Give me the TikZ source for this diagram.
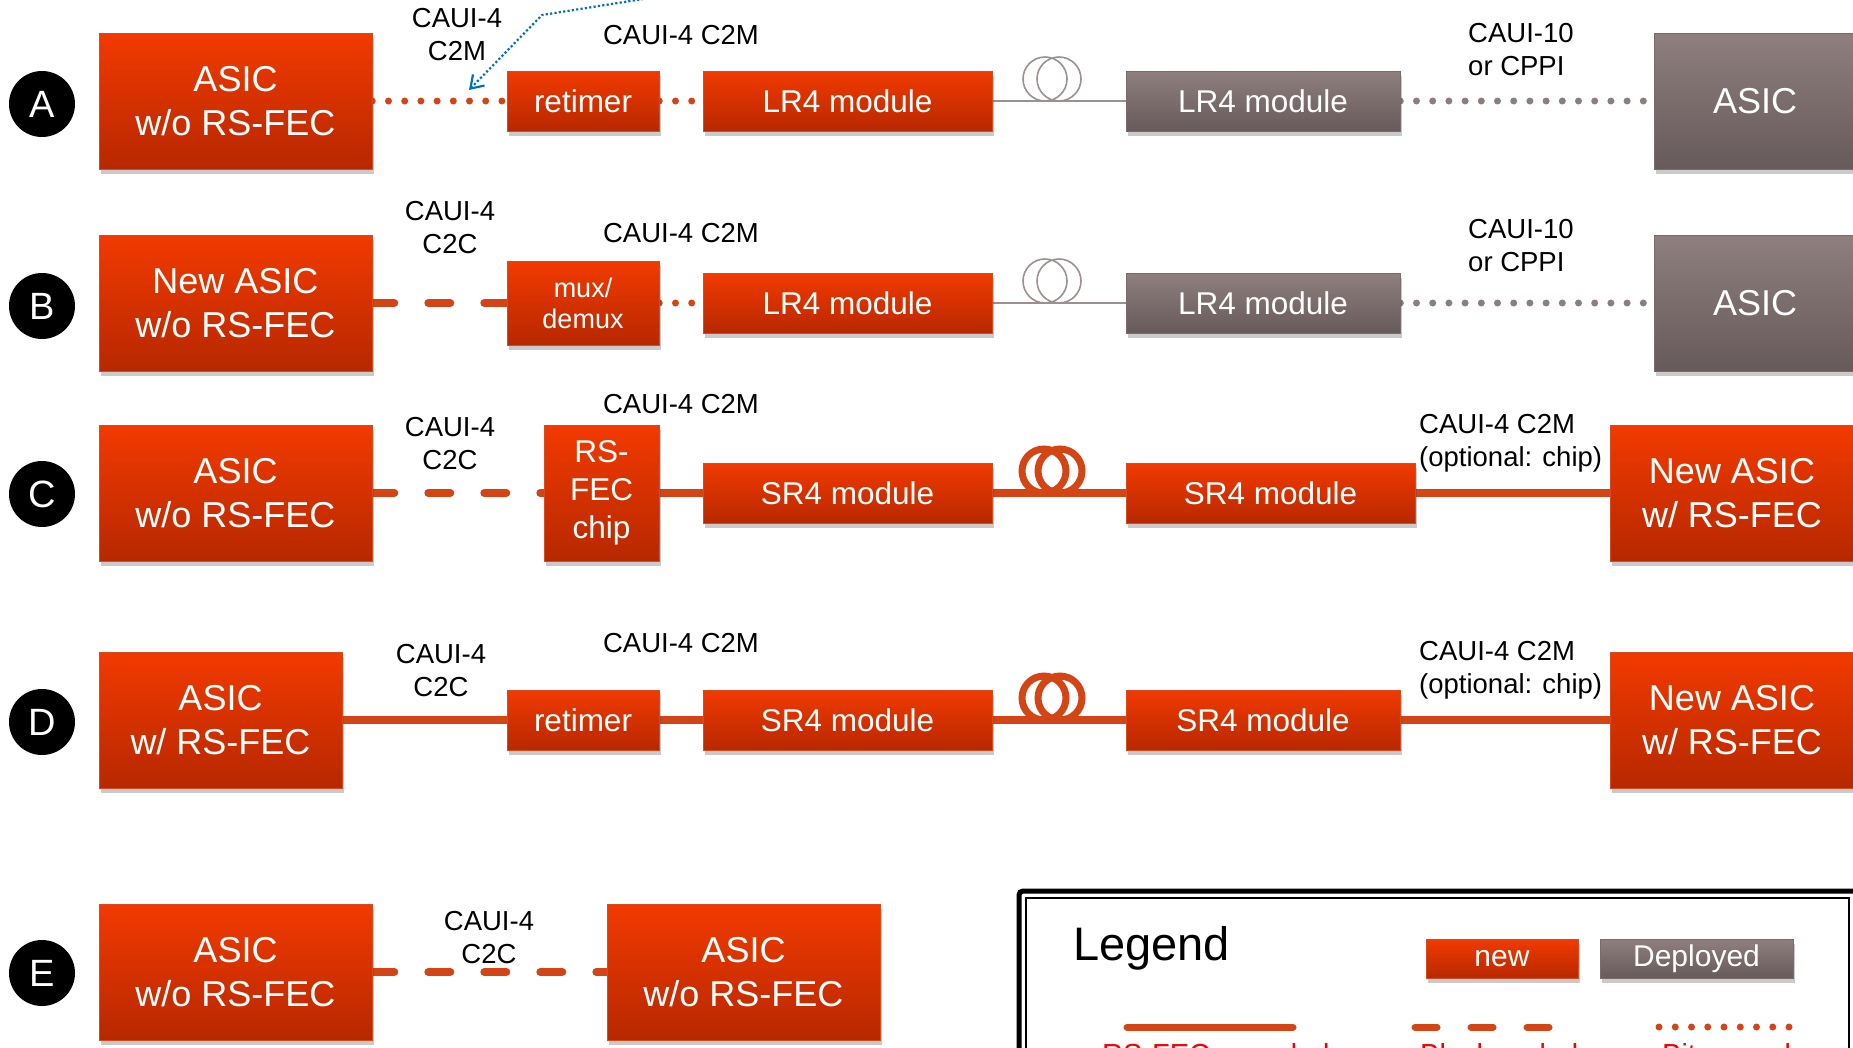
\documentclass[tikz,border=0pt]{standalone}
\usepackage{fontspec}
\setmainfont{Liberation Sans}
\usetikzlibrary{shadows,backgrounds,arrows.meta}
\definecolor{rtop}{HTML}{F23A00}
\definecolor{rbot}{HTML}{B72800}
\definecolor{redge}{HTML}{D84A20}
\definecolor{gtop}{HTML}{8F7F7F}
\definecolor{gbot}{HTML}{675A5A}
\definecolor{gedge}{HTML}{7A6C6C}
\definecolor{lred}{HTML}{D44516}
\definecolor{lgrey}{HTML}{8C7E7E}
\definecolor{fgrey}{HTML}{9C9090}
\definecolor{arrblue}{HTML}{0070C0}
\definecolor{txtred}{HTML}{F80000}
\begin{document}
\begin{tikzpicture}[x=1pt,y=-1pt,
  shadowed/.style={drop shadow={shadow xshift=1.5pt,shadow yshift=-5pt,opacity=0.28,fill=black!75}},
  redbox/.style={rectangle,top color=rtop,bottom color=rbot,draw=redge,line width=0.6pt,text=white,align=center,inner sep=0pt,shadowed},
  greybox/.style={rectangle,top color=gtop,bottom color=gbot,draw=gedge,line width=0.6pt,text=white,align=center,inner sep=0pt,shadowed},
  bigbox/.style={minimum width=273pt,minimum height=136pt,font=\fontsize{36}{44}\selectfont},
  modbox/.style={minimum width=289pt,minimum height=60pt,font=\fontsize{31.5}{38}\selectfont},
  smallbox/.style={minimum width=152pt,minimum height=60pt,font=\fontsize{31.5}{38}\selectfont},
  lbl/.style={inner sep=0pt,align=center,font=\fontsize{27.5}{33}\selectfont},
  lbll/.style={inner sep=0pt,align=left,anchor=west,font=\fontsize{27.5}{33}\selectfont},
  rowmark/.style={circle,fill=black,text=white,minimum size=66pt,inner sep=0pt,font=\fontsize{38}{38}\selectfont},
  redline/.style={draw=lred,line width=7.5pt},
  reddash/.style={draw=lred,line width=8pt,line cap=round,dash pattern=on 22pt off 34pt},
  reddot/.style={draw=lred,line width=7pt,line cap=round,dash pattern=on 0pt off 16.2pt},
  greydot/.style={draw=lgrey,line width=7pt,line cap=round,dash pattern=on 0pt off 16.2pt},
  greyfiber/.style={draw=fgrey,line width=1.6pt},
  redfiber/.style={draw=lred,line width=7pt},
]
\useasboundingbox (0,0) rectangle (1853,1047);
\clip (0,0) rectangle (1853,1047);

% row markers
\node[rowmark] (mA) at (42,104) {A};
\node[rowmark] (mB) at (42,306) {B};
\node[rowmark] (mC) at (42,494) {C};
\node[rowmark] (mD) at (42,722) {D};
\node[rowmark] (mE) at (42,973) {E};

% Row A
\node[redbox,bigbox] (a1) at (235.5,101) {ASIC\\w/o RS-FEC};
\node[redbox,smallbox] (a2) at (583,101) {retimer};
\node[redbox,modbox] (a3) at (847.5,101) {LR4 module};
\node[greybox,modbox,minimum width=274pt] (a4) at (1263,101) {LR4 module};
\node[greybox,bigbox,minimum width=202pt] (a5) at (1755,101) {ASIC};

% Row B
\node[redbox,bigbox] (b1) at (235.5,303) {New ASIC\\w/o RS-FEC};
\node[redbox,smallbox,minimum height=84pt,font=\fontsize{27}{31}\selectfont] (b2) at (583,303) {mux/\\demux};
\node[redbox,modbox] (b3) at (847.5,303) {LR4 module};
\node[greybox,modbox,minimum width=274pt] (b4) at (1263,303) {LR4 module};
\node[greybox,bigbox,minimum width=202pt] (b5) at (1755,303) {ASIC};

% Row C
\node[redbox,bigbox] (c1) at (235.5,493) {ASIC\\w/o RS-FEC};
\node[redbox,minimum width=115pt,minimum height=136pt,font=\fontsize{31.5}{38}\selectfont] (c2) at (601.5,493) {RS-\\FEC\\chip};
\node[redbox,modbox] (c3) at (847.5,493) {SR4 module};
\node[redbox,modbox] (c4) at (1270.5,493) {SR4 module};
\node[redbox,bigbox,minimum width=244pt] (c5) at (1732,493) {New ASIC\\w/ RS-FEC};

% Row D
\node[redbox,bigbox,minimum width=243pt] (d1) at (220.5,720) {ASIC\\w/ RS-FEC};
\node[redbox,smallbox] (d2) at (583,720) {retimer};
\node[redbox,modbox] (d3) at (847.5,720) {SR4 module};
\node[redbox,modbox,minimum width=274pt] (d4) at (1263,720) {SR4 module};
\node[redbox,bigbox,minimum width=244pt] (d5) at (1732,720) {New ASIC\\w/ RS-FEC};

% Row E
\node[redbox,bigbox] (e1) at (235.5,972) {ASIC\\w/o RS-FEC};
\node[redbox,bigbox] (e2) at (743.5,972) {ASIC\\w/o RS-FEC};

% connectors (behind boxes)
\begin{pgfonlayer}{background}
\draw[reddot] (a1.east) -- (a2.west);
\draw[reddot] (a2.east) -- (a3.west);
\draw[greyfiber] (a3.east) -- (a4.west);
\draw[greydot] (a4.east) -- (a5.west);

\draw[reddash] (b1.east) -- (b2.west);
\draw[reddot] (b2.east) -- (b3.west);
\draw[greyfiber] (b3.east) -- (b4.west);
\draw[greydot] (b4.east) -- (b5.west);

\draw[reddash] (c1.east) -- (c2.west);
\draw[redline] (c2.east) -- (c3.west);
\draw[redline] (c3.east) -- (c4.west);
\draw[redline] (c4.east) -- (c5.west);

\draw[redline] (d1.east) -- (d2.west);
\draw[redline] (d2.east) -- (d3.west);
\draw[redline] (d3.east) -- (d4.west);
\draw[redline] (d4.east) -- (d5.west);

\draw[reddash] (e1.east) -- (e2.west);
\end{pgfonlayer}

% fiber coils
\coordinate (fA) at (1052,79);
\coordinate (fB) at (1052,281);
\coordinate (fC) at (1052,471);
\coordinate (fD) at (1052,698);
\draw[greyfiber] ([xshift=-7pt]fA) circle[radius=22pt] ([xshift=7pt]fA) circle[radius=22pt];
\draw[greyfiber] ([xshift=-7pt]fB) circle[radius=22pt] ([xshift=7pt]fB) circle[radius=22pt];
\draw[redfiber] ([xshift=-8pt]fC) circle[radius=22pt] ([xshift=8pt]fC) circle[radius=22pt];
\draw[redfiber] ([xshift=-8pt]fD) circle[radius=22pt] ([xshift=8pt]fD) circle[radius=22pt];

% labels
\node[lbl] (lA1) at (457,34.5) {CAUI-4\\C2M};
\node[lbl] (lA2) at (681,35) {CAUI-4 C2M};
\node[lbll] (lA3) at (1468,49.5) {CAUI-10\\or CPPI};

\node[lbl] (lB1) at (450,228) {CAUI-4\\C2C};
\node[lbl] (lB2) at (681,233) {CAUI-4 C2M};
\node[lbll] (lB3) at (1468,245.5) {CAUI-10\\or CPPI};

\node[lbl] (lC1) at (450,443.5) {CAUI-4\\C2C};
\node[lbl] (lC2) at (681,404) {CAUI-4 C2M};
\node[lbll] (lC3) at (1419,443.5) {CAUI-4 C2M\\(optional: chip)};

\node[lbl] (lD1) at (441,670.5) {CAUI-4\\C2C};
\node[lbl] (lD2) at (681,643) {CAUI-4 C2M};
\node[lbll] (lD3) at (1419,670.5) {CAUI-4 C2M\\(optional: chip)};

\node[lbl] (lE1) at (489,937.5) {CAUI-4\\C2C};

% blue pointer
\coordinate (bp0) at (700,-10);
\coordinate (bp1) at (542,15);
\coordinate (bp2) at (469,90);
\draw[arrblue,line width=2.2pt,dash pattern=on 2.2pt off 2.2pt,-{Straight Barb[length=12pt,width=16pt,line width=2.2pt]}] (bp0) -- (bp1) -- (bp2);

% legend
\draw[line width=5pt,rounded corners=4pt] (1019,891) rectangle (1858,1080);
\draw[line width=2pt] (1026,898) rectangle (1849,1080);
\node[anchor=base west,inner sep=0pt,font=\fontsize{47}{47}\selectfont] (lg) at (1073,960) {Legend};
\node[redbox,minimum width=152pt,minimum height=39pt,font=\fontsize{30}{36}\selectfont] (lnew) at (1502,958.5) {new};
\node[greybox,minimum width=193pt,minimum height=39pt,font=\fontsize{30}{36}\selectfont] (ldep) at (1696.5,958.5) {Deployed};
\coordinate (ls1) at (1127,1027);
\coordinate (ls2) at (1293,1027);
\coordinate (ld1) at (1415,1027);
\coordinate (ld2) at (1560,1027);
\coordinate (lo1) at (1659,1027);
\coordinate (lo2) at (1790,1027);
\draw[redline,line width=7pt,line cap=round] (ls1) -- (ls2);
\draw[reddash,line width=7pt] (ld1) -- (ld2);
\draw[reddot,dash pattern=on 0pt off 16.25pt] (lo1) -- (lo2);
\node[anchor=base west,inner sep=0pt,text=txtred,font=\fontsize{29}{29}\selectfont] (lt1) at (1102,1064) {RS-FEC encoded};
\node[anchor=base west,inner sep=0pt,text=txtred,font=\fontsize{29}{29}\selectfont] (lt2) at (1420,1064) {Block coded};
\node[anchor=base west,inner sep=0pt,text=txtred,font=\fontsize{29}{29}\selectfont] (lt3) at (1662,1064) {Bit muxed};
\end{tikzpicture}
\end{document}
